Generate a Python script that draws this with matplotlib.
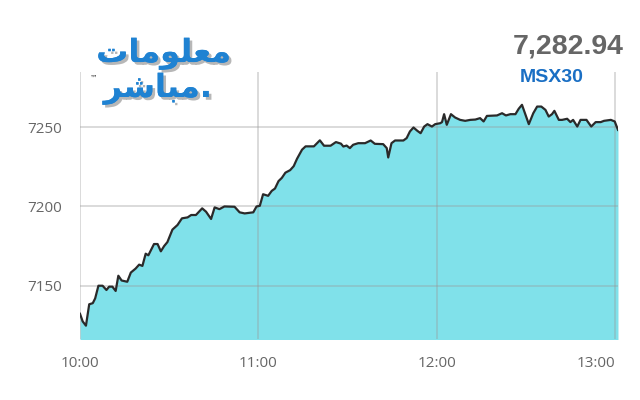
import matplotlib
matplotlib.use("Agg")
import matplotlib.pyplot as plt
import matplotlib.patheffects as pe

# minutes since 10:00
minutes = [0.0, 0.9, 2.0, 3.1, 4.3, 5.1, 6.2, 7.6, 8.9, 9.8, 10.9, 12.0, 12.9, 14.0,
           15.9, 17.1, 18.7, 19.9, 21.0, 22.1, 23.0, 24.9, 26.1, 27.2, 28.3, 29.4,
           31.1, 32.8, 34.3, 36.2, 37.4, 39.0, 41.1, 42.4, 44.1, 45.3, 46.9, 48.6,
           52.0, 53.7, 55.4, 58.3, 59.4, 60.5, 61.6, 63.3, 64.5, 65.6, 66.8, 67.9,
           69.1, 70.7, 71.9, 73.0, 74.7, 75.9, 78.7, 80.7, 82.1, 84.3, 86.1, 87.8,
           88.6, 89.7, 90.8, 91.9, 93.6, 95.9, 97.8, 99.2, 102.0, 103.2, 103.7,
           104.8, 106.0, 108.8, 109.9, 111.0, 112.2, 113.5, 114.6, 115.8, 116.9,
           118.4, 119.5, 121.2, 121.8, 122.5, 123.4, 124.8, 126.2, 127.9, 129.6,
           131.3, 133.0, 134.6, 135.8, 136.9, 140.3, 142.0, 143.3, 144.8, 146.5,
           147.6, 148.7, 149.9, 151.0, 152.5, 153.8, 155.2, 156.6, 157.7, 158.8,
           159.6, 161.1, 162.2, 163.9, 165.0, 165.9, 167.3, 168.4, 170.4, 172.0,
           173.5, 175.2, 176.3, 178.6, 179.9, 181.0]
values = [7132.3, 7127.5, 7124.8, 7138.3, 7139.0, 7142.0, 7150.0, 7150.0, 7147.3,
          7149.4, 7149.4, 7146.7, 7156.3, 7153.3, 7152.5, 7158.3, 7160.8, 7163.3,
          7162.5, 7170.2, 7169.2, 7176.3, 7176.3, 7171.7, 7175.0, 7177.5, 7185.4,
          7188.3, 7192.5, 7193.1, 7194.6, 7194.6, 7198.8, 7196.7, 7192.1, 7199.4,
          7198.3, 7200.0, 7199.8, 7196.3, 7195.6, 7196.3, 7200.0, 7200.4, 7207.7,
          7206.7, 7209.8, 7211.3, 7216.0, 7218.0, 7221.3, 7222.9, 7225.4, 7230.0,
          7235.8, 7237.9, 7237.9, 7241.7, 7238.3, 7238.3, 7240.6, 7239.6, 7237.8,
          7238.4, 7236.8, 7238.9, 7239.9, 7239.9, 7241.6, 7239.5, 7239.3, 7236.8,
          7230.9, 7239.9, 7241.6, 7241.6, 7243.1, 7247.3, 7249.8, 7247.7, 7246.2,
          7250.4, 7251.9, 7250.4, 7251.9, 7252.5, 7253.2, 7258.2, 7251.5, 7258.2,
          7256.1, 7254.6, 7254.0, 7254.6, 7254.8, 7255.7, 7253.6, 7257.1, 7257.4,
          7258.8, 7257.4, 7258.2, 7258.2, 7261.6, 7264.1, 7257.8, 7251.9, 7258.8,
          7263.0, 7263.0, 7260.9, 7256.7, 7258.2, 7260.3, 7254.6, 7254.6, 7255.3,
          7253.2, 7254.6, 7250.4, 7254.6, 7254.6, 7250.4, 7253.2, 7253.2, 7254.0,
          7254.6, 7253.6, 7248.3]

x_ticks = [0, 60, 120, 180]
x_labels = ["10:00", "11:00", "12:00", "13:00"]
y_ticks = [7150, 7200, 7250]
y_labels = ["7150", "7200", "7250"]
last_value = "7,282.94"
index_name = "MSX30"
logo_top = "\uFE95\uFE8E\uFEE3\uFEEE\uFEE0\uFECC\uFEE3"   # معلومات (shaped, visual order)
logo_bottom = "\uFEAE\uFEB7\uFE8E\uFE92\uFEE3"            # مباشر (shaped, visual order)

fig = plt.figure(figsize=(6.4, 4.0), dpi=100)
ax = fig.add_axes([0.125, 0.1525, 0.8406, 0.6675])

ymin, ymax = 7116.4, 7284.8
ax.fill_between(minutes, values, ymin - 10, color="#80e1ea", linewidth=0, zorder=1)
ax.plot(minutes, values, color="#2a2a2a", linewidth=1.6, zorder=3)

ax.set_xlim(0, 181)
ax.set_ylim(ymin, ymax)
ax.set_xticks(x_ticks)
ax.set_xticklabels(x_labels)
ax.set_yticks(y_ticks)
ax.set_yticklabels(y_labels)
ax.set_axisbelow(False)
ax.grid(True, color="#999999", alpha=0.38, linewidth=1.3, zorder=2)
for s in ax.spines.values():
    s.set_visible(False)
ax.tick_params(axis="both", length=0, labelcolor="#666666", labelsize=11)
ax.tick_params(axis="y", pad=13)
ax.tick_params(axis="x", pad=12)
for lab in ax.get_xticklabels() + ax.get_yticklabels():
    lab.set_fontfamily("Open Sans")
ax.get_xticklabels()[-1].set_horizontalalignment("right")

fig.text(568 / 640, 1 - 47 / 400, last_value, fontsize=20.5, fontweight="bold",
         color="#666666", ha="center", va="center", family="Liberation Sans")
fig.text(552 / 640, 1 - 77 / 400, index_name, fontsize=14, fontweight="bold",
         color="#1a6fc4", ha="center", va="center", family="Liberation Sans")

shadow = [pe.withSimplePatchShadow(offset=(2, -2), shadow_rgbFace="#888888", alpha=0.6), pe.Normal()]
fig.text(164 / 640, 1 - 54 / 400, logo_top, fontsize=23, fontweight="bold",
         color="#1f82d2", ha="center", va="center", family="DejaVu Sans",
         path_effects=shadow)
fig.text(158 / 640, 1 - 89 / 400, logo_bottom + ".", fontsize=23, fontweight="bold",
         color="#1f82d2", ha="center", va="center", family="DejaVu Sans",
         path_effects=shadow)
fig.text(94 / 640, 1 - 78 / 400, "\u2122", fontsize=5.5, color="#333333",
         ha="center", va="center", family="DejaVu Sans")

fig.savefig("out.png", dpi=100, facecolor="white")
